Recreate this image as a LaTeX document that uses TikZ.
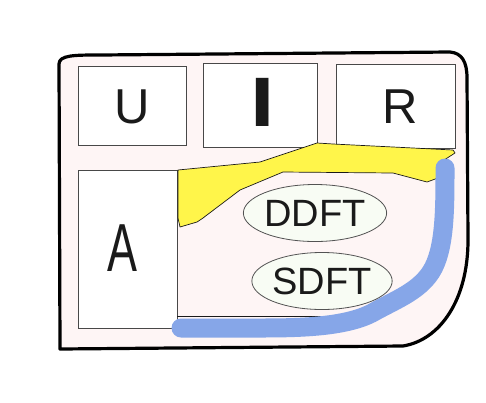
\documentclass[tikz,border=0pt]{standalone}
\usepackage{fontspec}
\setmainfont{Liberation Sans}
\usetikzlibrary{shapes.geometric}
\definecolor{pinkbg}{HTML}{FEF5F5}
\definecolor{yel}{HTML}{FFF54A}
\definecolor{blu}{HTML}{86A6E8}
\definecolor{ellfill}{HTML}{F8FCF4}
\definecolor{ink}{HTML}{1A1A1A}
\tikzset{
  box/.style={draw=ink!80, line width=0.9pt, fill=white, inner sep=0pt},
  boxtext/.style={font=\fontsize{49}{49}\selectfont, text=ink},
  ell/.style={ellipse, draw=ink!75, line width=0.8pt, fill=ellfill, minimum width=130pt, minimum height=57pt, inner sep=0pt, font=\fontsize{38}{38}\selectfont, text=ink},
}
\begin{document}
\begin{tikzpicture}[x=1pt,y=-1pt]
\path[use as bounding box] (0,0) rectangle (486,402);
% outer frame
\draw[line width=3.2pt, fill=pinkbg, line join=round]
  (59,64) .. controls (59,55) and (75,55) .. (100,55)
  -- (450,52) .. controls (462,53) and (467,62) .. (467,78)
  -- (468,240) .. controls (468,300) and (440,340) .. (403,346)
  -- (60,349) -- cycle;
% boxes
\node[box, minimum width=108pt, minimum height=79pt] (U) at (132,105.5) {};
\node[boxtext] (Ut) at (132,107) {U};
\node[box, minimum width=114pt, minimum height=84pt] (I) at (260,105) {};
\node[boxtext, font=\fontsize{70}{70}\selectfont\bfseries, xscale=1.25] (It) at (263,102) {I};
\node[box, minimum width=119pt, minimum height=84pt] (R) at (395.5,106) {};
\node[boxtext] (Rt) at (400,107) {R};
\node[box, minimum width=99pt, minimum height=158pt] (A) at (127.5,249) {};
\node[boxtext, font=\fontsize{68}{68}\selectfont, xscale=0.66] (At) at (122,248) {A};
% inner region bottom line
\draw[ink, line width=0.9pt] (A.east |- 0,316) -- (350,316);
% yellow band
\draw[fill=yel, draw=ink, line width=0.7pt, line join=round]
  (178,170) -- (260,162) -- (317,143) -- (333,144) -- (453,150) -- (455,153)
  -- (441,162) -- (438,178) -- (427,182) -- (393,173) -- (283,172)
  -- (240,190) -- (203,218) -- (197,222) -- (180,227) -- (178,218) -- cycle;
% blue stroke
\draw[blu, line width=19pt, line cap=round, line join=round]
  (445,168) .. controls (445,210) and (445,250) .. (431,272)
  .. controls (418,292) and (395,300) .. (372,313)
  .. controls (345,327) and (300,328) .. (260,328)
  -- (181,328);
% ellipses
\node[ell] (DDFT) at (315,213) {DDFT};
\node[ell] (SDFT) at (322,281) {SDFT};
\end{tikzpicture}
\end{document}
